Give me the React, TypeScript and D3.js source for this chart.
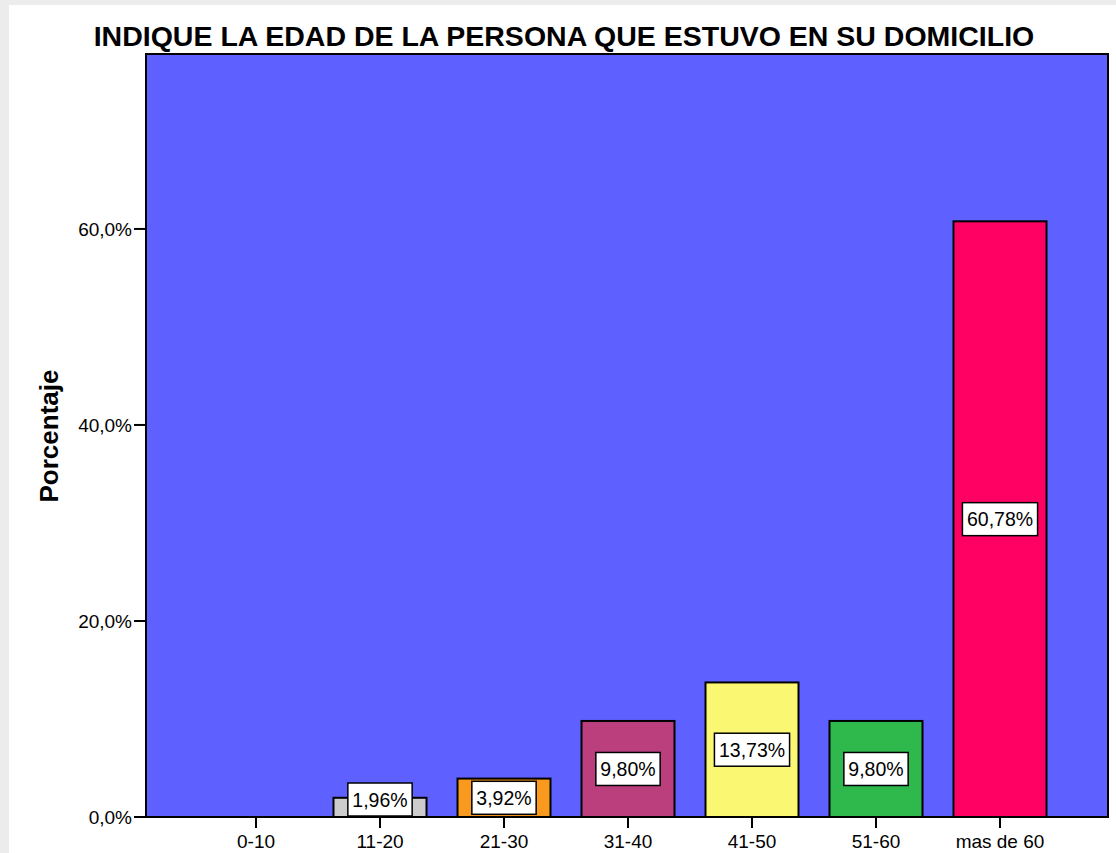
import * as d3 from 'd3'
import { useEffect, useRef } from 'react'

const W = 1116, H = 853

const categories = ['0-10', '11-20', '21-30', '31-40', '41-50', '51-60', 'mas de 60']
const percents = [0, 1.96, 3.92, 9.80, 13.73, 9.80, 60.78]
const colors = ['#cccccc', '#cccccc', '#f99a1e', '#bb3e7d', '#faf773', '#2fb84b', '#ff0063']
const yTicks = [0, 20, 40, 60]

const title = 'INDIQUE LA EDAD DE LA PERSONA QUE ESTUVO EN SU DOMICILIO'
const yTitle = 'Porcentaje'

const plot = { left: 146, right: 1108, top: 54, bottom: 817 }
const fmt = (v: number, d: number) => v.toFixed(d).replace('.', ',') + '%'

const chart = (node: SVGSVGElement) => {
  const svg = d3.select(node)
  svg.selectAll('*').remove()

  // page background with the faint grey edge
  svg.append('rect').attr('width', W).attr('height', H).attr('fill', '#ececec')
  svg.append('rect').attr('x', 9).attr('y', 5).attr('width', W - 9).attr('height', H - 5).attr('fill', '#fff')

  const x = d3.scaleBand()
    .domain(categories)
    .range([194, 1062])
    .paddingInner(0.25)
    .paddingOuter(0.125)
  const y = d3.scaleLinear().domain([0, 77.85]).range([plot.bottom, plot.top])

  svg.append('rect')
    .attr('x', plot.left).attr('y', plot.top)
    .attr('width', plot.right - plot.left).attr('height', plot.bottom - plot.top)
    .attr('fill', '#5e60ff')
    .attr('stroke', '#000').attr('stroke-width', 2)

  const font = "'Liberation Sans', Arial, sans-serif"

  svg.append('text')
    .attr('x', 564).attr('y', 46)
    .attr('text-anchor', 'middle')
    .attr('font-family', font).attr('font-weight', 'bold').attr('font-size', 28.5)
    .text(title)

  // y axis ticks
  const yg = svg.append('g').attr('font-family', font).attr('font-size', 19)
  yg.selectAll('line').data(yTicks).join('line')
    .attr('x1', 134).attr('x2', plot.left)
    .attr('y1', d => y(d)).attr('y2', d => y(d))
    .attr('stroke', '#000').attr('stroke-width', 2)
  yg.selectAll('text').data(yTicks).join('text')
    .attr('x', 132).attr('y', d => y(d)).attr('dy', '0.35em')
    .attr('text-anchor', 'end')
    .text(d => fmt(d, 1))

  svg.append('text')
    .attr('transform', `translate(58,436) rotate(-90)`)
    .attr('text-anchor', 'middle')
    .attr('font-family', font).attr('font-weight', 'bold').attr('font-size', 26)
    .text(yTitle)

  // bars
  const data = categories.map((c, i) => ({ c, v: percents[i], color: colors[i] }))
  svg.append('g').selectAll('rect').data(data).join('rect')
    .attr('x', d => x(d.c)!)
    .attr('y', d => y(d.v))
    .attr('width', x.bandwidth())
    .attr('height', d => y(0) - y(d.v))
    .attr('fill', d => d.color)
    .attr('stroke', '#000').attr('stroke-width', 2)

  // bottom axis line and ticks
  svg.append('line')
    .attr('x1', 134).attr('x2', plot.right)
    .attr('y1', plot.bottom).attr('y2', plot.bottom)
    .attr('stroke', '#000').attr('stroke-width', 2)
  const xg = svg.append('g').attr('font-family', font).attr('font-size', 19)
  xg.selectAll('line').data(categories).join('line')
    .attr('x1', d => x(d)! + x.bandwidth() / 2).attr('x2', d => x(d)! + x.bandwidth() / 2)
    .attr('y1', plot.bottom).attr('y2', plot.bottom + 11)
    .attr('stroke', '#000').attr('stroke-width', 2)
  xg.selectAll('text').data(categories).join('text')
    .attr('x', d => x(d)! + x.bandwidth() / 2).attr('y', 848)
    .attr('text-anchor', 'middle')
    .text(d => d)

  // value labels in white boxes
  const boxH = 33
  const lab = svg.append('g').selectAll('g').data(data.filter(d => d.v > 0)).join('g')
    .attr('transform', d => {
      const mid = (y(0) + y(d.v)) / 2
      const cy = Math.min(mid, plot.bottom - 1 - boxH / 2)
      return `translate(${x(d.c)! + x.bandwidth() / 2},${cy})`
    })
  const rects = lab.append('rect')
    .attr('fill', '#fff').attr('stroke', '#000').attr('stroke-width', 1.5)
  const texts = lab.append('text')
    .attr('text-anchor', 'middle').attr('dy', '0.36em')
    .attr('font-family', font).attr('font-size', 19.5)
    .text(d => fmt(d.v, 2))
  texts.each(function (_, i) {
    const w = (this as SVGTextElement).getComputedTextLength() + 9
    d3.select(rects.nodes()[i])
      .attr('x', -w / 2).attr('y', -boxH / 2)
      .attr('width', w).attr('height', boxH)
  })
}

export default function App() {
  const ref = useRef<SVGSVGElement>(null)
  useEffect(() => {
    if (ref.current) chart(ref.current)
  }, [])
  return (
    <svg ref={ref} width={W} height={H}
      style={{ position: 'absolute', left: 0, top: 0, display: 'block' }} />
  )
}
